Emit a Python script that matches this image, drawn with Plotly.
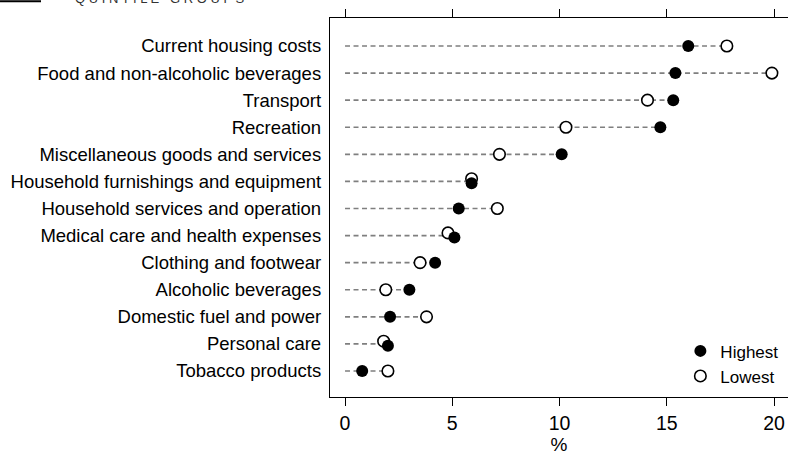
import plotly.graph_objects as go

categories = [
    "Current housing costs",
    "Food and non-alcoholic beverages",
    "Transport",
    "Recreation",
    "Miscellaneous goods and services",
    "Household furnishings and equipment",
    "Household services and operation",
    "Medical care and health expenses",
    "Clothing and footwear",
    "Alcoholic beverages",
    "Domestic fuel and power",
    "Personal care",
    "Tobacco products",
]
highest = [16.0, 15.4, 15.3, 14.7, 10.1, 5.9, 5.3, 5.1, 4.2, 3.0, 2.1, 2.0, 0.8]
lowest = [17.8, 19.9, 14.1, 10.3, 7.2, 5.9, 7.1, 4.8, 3.5, 1.9, 3.8, 1.8, 2.0]
x_ticks = [0, 5, 10, 15, 20]

FONT = "Liberation Sans, Arial, sans-serif"
idx = list(range(len(categories)))

# small vertical separation when the two markers nearly coincide
off_low = [-0.1 if abs(h - l) < 0.3 else 0 for h, l in zip(highest, lowest)]
off_high = [0.07 if abs(h - l) < 0.3 else 0 for h, l in zip(highest, lowest)]

lx, ly = [], []
for i, h, l in zip(idx, highest, lowest):
    lx += [0, max(h, l), None]
    ly += [i, i, None]

fig = go.Figure()
fig.add_trace(go.Scatter(x=lx, y=ly, mode="lines",
                         line=dict(color="#7f7f7f", width=1.7, dash="5px,3.5px"),
                         showlegend=False, hoverinfo="skip"))
fig.add_trace(go.Scatter(x=lowest, y=[i + o for i, o in zip(idx, off_low)],
                         mode="markers", name="Lowest", legendrank=2,
                         marker=dict(symbol="circle", size=11.5, color="white",
                                     line=dict(color="black", width=1.6))))
fig.add_trace(go.Scatter(x=highest, y=[i + o for i, o in zip(idx, off_high)],
                         mode="markers", name="Highest", legendrank=1,
                         marker=dict(symbol="circle", size=12, color="black",
                                     line=dict(color="black", width=0))))
fig.add_trace(go.Scatter(x=[0], y=[0], xaxis="x2", mode="markers",
                         marker=dict(opacity=0), showlegend=False, hoverinfo="skip"))

fig.update_layout(
    width=788, height=455,
    margin=dict(l=330, r=0, t=18, b=58),
    paper_bgcolor="white", plot_bgcolor="white",
    font=dict(family=FONT, color="black", size=18),
    xaxis=dict(range=[-0.7, 20.65], tickvals=x_ticks, ticks="outside", ticklen=8,
               tickwidth=1.3, tickcolor="black", showline=True, linecolor="black",
               linewidth=1.3, showgrid=False, zeroline=False,
               tickfont=dict(size=19.5), title=dict(text="%", font=dict(size=19), standoff=4)),
    xaxis2=dict(range=[-0.7, 20.65], tickvals=x_ticks, overlaying="x", side="top",
                ticks="outside", ticklen=8, tickwidth=1.3, tickcolor="black",
                showline=True, linecolor="black", linewidth=1.3, showgrid=False,
                zeroline=False, showticklabels=False),
    yaxis=dict(range=[12.96, -1.034], tickvals=idx, ticktext=categories,
               ticks="outside", ticklen=4, tickcolor="rgba(0,0,0,0)",
               showline=True, linecolor="black", linewidth=1.3, showgrid=False,
               zeroline=False, tickfont=dict(size=18.5)),
    legend=dict(x=0.765, y=0.168, xanchor="left", yanchor="top",
                bgcolor="rgba(0,0,0,0)", font=dict(size=17), tracegroupgap=0,
                itemwidth=30),
    showlegend=True,
)

fig.add_shape(type="line", xref="paper", yref="paper",
              x0=-0.7205, x1=-0.631, y0=1.044, y1=1.044,
              line=dict(color="black", width=2))
fig.add_annotation(text="Q U I N T I L E   G R O U P S", xref="paper", yref="paper",
                   x=-0.561, y=1.027, xanchor="left", yanchor="bottom",
                   showarrow=False, font=dict(size=13, color="#333"))

fig.write_html("out.html", config={"displayModeBar": False},
               post_script="document.body.style.margin='0';document.body.style.overflow='hidden';")
